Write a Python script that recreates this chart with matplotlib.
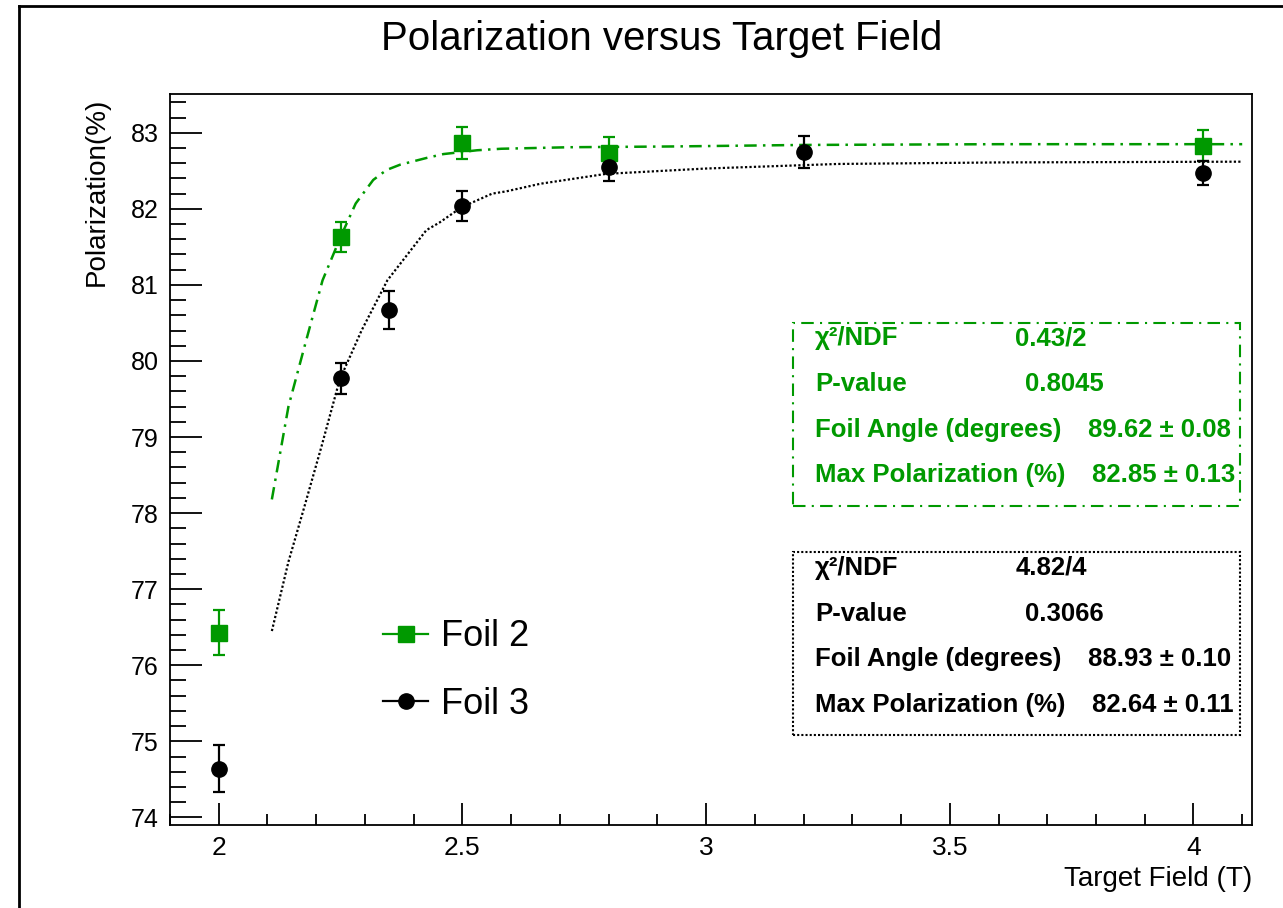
import matplotlib
matplotlib.use("Agg")
import matplotlib.pyplot as plt
from matplotlib.lines import Line2D
from matplotlib.patches import Rectangle

plt.rcParams['font.family'] = ['Liberation Sans', 'DejaVu Sans']

GREEN = '#009900'

# measured points
field2 = [2.0, 2.25, 2.5, 2.8, 4.02]
pol2 = [76.43, 81.63, 82.86, 82.74, 82.83]
err2 = [0.29, 0.20, 0.21, 0.20, 0.20]

field3 = [2.0, 2.25, 2.35, 2.5, 2.8, 3.2, 4.02]
pol3 = [74.64, 79.77, 80.67, 82.04, 82.55, 82.75, 82.47]
err3 = [0.31, 0.21, 0.25, 0.20, 0.19, 0.21, 0.16]

# fitted curves
fit2_x = [2.109, 2.143, 2.176, 2.213, 2.25, 2.281, 2.317, 2.344, 2.372, 2.427,
          2.461, 2.53, 2.58, 2.72, 2.93, 3.2, 3.6, 4.1]
fit2_y = [78.18, 79.40, 80.19, 81.06, 81.63, 82.07, 82.38, 82.51, 82.58, 82.67,
          82.72, 82.77, 82.79, 82.81, 82.82, 82.84, 82.85, 82.85]

fit3_x = [2.109, 2.143, 2.176, 2.211, 2.248, 2.293, 2.346, 2.426, 2.453, 2.498,
          2.561, 2.59, 2.66, 2.795, 3.0, 3.27, 3.6, 4.1]
fit3_y = [76.45, 77.36, 78.09, 78.88, 79.75, 80.40, 81.06, 81.72, 81.82, 82.02,
          82.20, 82.23, 82.33, 82.46, 82.53, 82.59, 82.61, 82.62]

stats2 = [("χ²/NDF", "0.43/2"), ("P-value", "0.8045"),
          ("Foil Angle (degrees)", "89.62 ± 0.08"),
          ("Max Polarization (%)", "82.85 ± 0.13")]
stats3 = [("χ²/NDF", "4.82/4"), ("P-value", "0.3066"),
          ("Foil Angle (degrees)", "88.93 ± 0.10"),
          ("Max Polarization (%)", "82.64 ± 0.11")]

fig = plt.figure(figsize=(12.83, 9.08), dpi=100)
ax = fig.add_axes([0.1325, 0.0914, 0.8433, 0.8051])

ax.plot(fit2_x, fit2_y, color=GREEN, lw=1.8, ls=(0, (5, 2.5, 1, 2.5)))
ax.plot(fit3_x, fit3_y, color='black', lw=1.6, ls=(0, (1, 1)))

ax.errorbar(field2, pol2, yerr=err2, fmt='s', color=GREEN, ms=11,
            elinewidth=1.6, capsize=4, capthick=1.6)
ax.errorbar(field3, pol3, yerr=err3, fmt='o', color='black', ms=11,
            elinewidth=1.6, capsize=4, capthick=1.6)

ax.set_xlim(1.9, 4.12)
ax.set_ylim(73.9, 83.51)
ax.set_xticks([2, 2.5, 3, 3.5, 4])
ax.set_xticklabels(['2', '2.5', '3', '3.5', '4'])
ax.set_xticks([x / 10 for x in range(19, 42)], minor=True)
ax.set_yticks(range(74, 84))
ax.set_yticks([y / 5 for y in range(370, 418)], minor=True)

ax.tick_params(axis='both', which='both', direction='in', top=False, right=False,
               labelsize=18, width=1.3)
ax.tick_params(axis='x', which='major', length=16, pad=8, labelsize=19)
ax.tick_params(axis='x', which='minor', length=8)
ax.tick_params(axis='y', which='major', length=23, pad=8)
ax.tick_params(axis='y', which='minor', length=11.5)
for s in ax.spines.values():
    s.set_linewidth(1.3)

ax.set_xlabel("Target Field (T)", fontsize=20, loc='right')
ax.xaxis.set_label_coords(1.0, -0.056)
ax.set_ylabel("Polarization(%)", fontsize=20, loc='top')
ax.yaxis.set_label_coords(-0.056, 0.995)

fig.text(0.516, 0.957, "Polarization versus Target Field", fontsize=29,
         ha='center', va='center')

# legend
handles = [Line2D([0], [0], color=GREEN, marker='s', ms=11, lw=1.6),
           Line2D([0], [0], color='black', marker='o', ms=11, lw=1.6)]
ax.legend(handles, ["Foil 2", "Foil 3"], loc='center left',
          bbox_to_anchor=(0.197, 0.2115), frameon=False, fontsize=26,
          handlelength=1.25, handletextpad=0.35, labelspacing=0.9,
          borderpad=0, borderaxespad=0)

# fit statistic boxes
def stat_box(rows, color, top, bottom, ls):
    ax.add_patch(Rectangle((0.5758, bottom), 0.989 - 0.5758, top - bottom,
                           transform=ax.transAxes, fill=False, ec=color,
                           lw=1.5, ls=ls, clip_on=False))
    val_x = [0.7814, 0.7906, 0.8489, 0.8526]
    step = (top - bottom) / 4.0
    for i, (name, val) in enumerate(rows):
        y = top - step * (i + 0.34)
        ax.text(0.5961, y, name, transform=ax.transAxes, color=color,
                fontsize=18.5, fontweight='bold', va='center', ha='left')
        ax.text(val_x[i], y, val, transform=ax.transAxes, color=color,
                fontsize=18.5, fontweight='bold', va='center', ha='left')

stat_box(stats2, GREEN, 0.687, 0.437, (0, (6, 3, 1, 3)))
stat_box(stats3, 'black', 0.373, 0.123, (0, (1, 1)))

# outer canvas border
fig.add_artist(Line2D([0.0148, 0.0148], [0.0, 0.9934], color='black', lw=2,
                      transform=fig.transFigure))
fig.add_artist(Line2D([0.0148, 1.0], [0.9934, 0.9934], color='black', lw=2,
                      transform=fig.transFigure))

fig.savefig("out.png", dpi=100)
